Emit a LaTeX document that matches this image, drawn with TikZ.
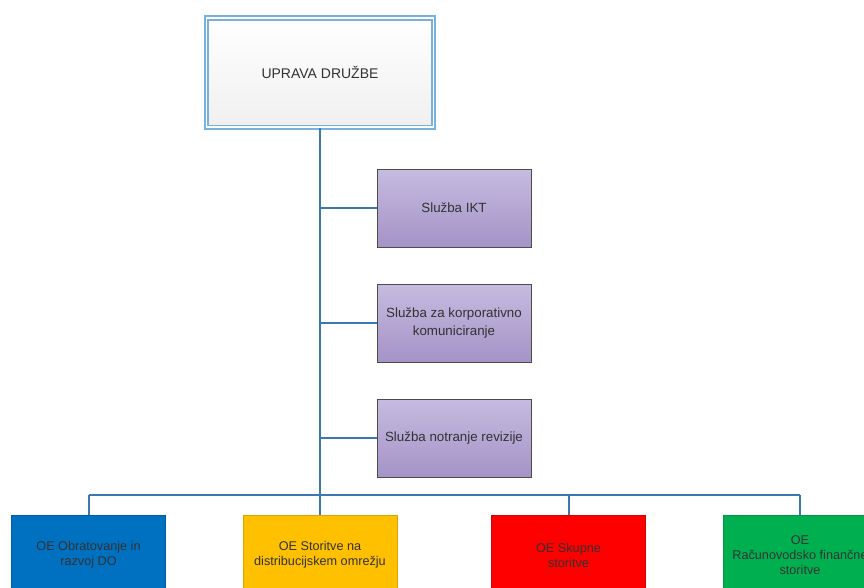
\documentclass[tikz,border=0pt]{standalone}
\usepackage{fontspec}
\setmainfont{Liberation Sans}
\usetikzlibrary{shadows}
\definecolor{linkblue}{RGB}{58,120,178}
\definecolor{frameblue}{RGB}{120,176,222}
\definecolor{textgray}{RGB}{50,50,50}
\definecolor{lilatop}{RGB}{198,187,224}
\definecolor{lilabot}{RGB}{164,147,199}
\definecolor{oeblue}{RGB}{0,112,192}
\definecolor{oeyellow}{RGB}{255,192,0}
\definecolor{oered}{RGB}{255,0,0}
\definecolor{oegreen}{RGB}{0,176,80}

\begin{document}
\begin{tikzpicture}[
  x=0.75pt, y=-0.75pt,
  uprava/.style={draw=frameblue, double=white, double distance=1.2pt, line width=1.4pt,
    top color=white, bottom color=gray!12, minimum width=170pt, minimum height=82pt,
    text=textgray, font=\fontsize{10.5}{12}\selectfont,
    drop shadow={opacity=0.25, shadow xshift=1.5pt, shadow yshift=-1.5pt}},
  sluzba/.style={draw=gray!60!black, line width=0.5pt, top color=lilatop, bottom color=lilabot,
    minimum width=115.5pt, minimum height=58.5pt, align=center, text=textgray,
    font=\fontsize{10}{13}\selectfont},
  oe/.style={draw=#1!85!black, line width=0.5pt, fill=#1, minimum width=115.5pt,
    minimum height=60pt, align=center, text=textgray, font=\fontsize{9.5}{11.3}\selectfont},
  link/.style={draw=linkblue, line width=1.5pt}
  ]
\useasboundingbox (0,0) rectangle (864,587);
\clip (0,0) rectangle (864,587);
\fill[white] (0,0) rectangle (864,587);
\def\sx{454}
\def\busy{495}
\node[uprava] (uprava) at (320,72.5) {UPRAVA DRUŽBE};
\node[sluzba] (ikt) at (\sx,208) {Služba IKT};
\node[sluzba] (kom) at (\sx,323) {Služba za korporativno\\komuniciranje};
\node[sluzba] (rev) at (\sx,438) {Služba notranje revizije};
\node[oe=oeblue] (obr) at (88.5,555) {OE Obratovanje in\\razvoj DO};
\node[oe=oeyellow] (sto) at (320,555) {OE Storitve na\\distribucijskem omrežju};
\node[oe=oered] (sku) at (568.5,555) {OE Skupne\\storitve};
\node[oe=oegreen] (rac) at (800,555) {OE\\Računovodsko finančne\\storitve};
\coordinate (bus) at (320,\busy);
\draw[link] (uprava.south) -- (bus);
\draw[link] (uprava.south |- ikt.west) -- (ikt.west);
\draw[link] (uprava.south |- kom.west) -- (kom.west);
\draw[link] (uprava.south |- rev.west) -- (rev.west);
\draw[link] (bus -| obr.north) -- (bus -| rac.north);
\draw[link] (bus -| obr.north) -- (obr.north);
\draw[link] (bus -| sto.north) -- (sto.north);
\draw[link] (bus -| sku.north) -- (sku.north);
\draw[link] (bus -| rac.north) -- (rac.north);
\end{tikzpicture}
\end{document}
